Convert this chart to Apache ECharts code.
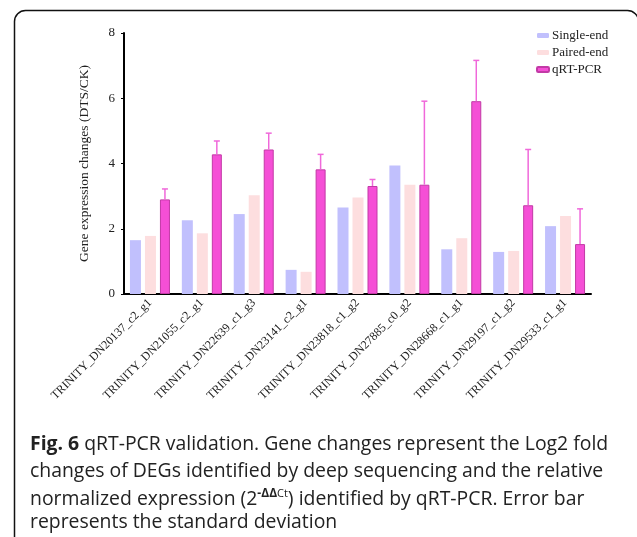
<!DOCTYPE html>
<html>
<head>
<meta charset="utf-8">
<script src="https://cdn.jsdelivr.net/npm/echarts@6/dist/echarts.min.js"></script>
<style>
    html, body { margin: 0; padding: 0; background: #fff; }
    #chart_content { width: 637px; height: 537px; }
</style>
</head>
<body>
<div id="chart_content"></div>
<script>
// genes on the x axis
var categories = [
    "TRINITY_DN20137_c2_g1", "TRINITY_DN21055_c2_g1", "TRINITY_DN22639_c1_g3",
    "TRINITY_DN23141_c2_g1", "TRINITY_DN23818_c1_g2", "TRINITY_DN27885_c0_g2",
    "TRINITY_DN28668_c1_g1", "TRINITY_DN29197_c1_g2", "TRINITY_DN29533_c1_g1"
];
var single_end = [1.65, 2.26, 2.45, 0.74, 2.65, 3.94, 1.37, 1.29, 2.08];
var paired_end = [1.78, 1.86, 3.03, 0.68, 2.96, 3.35, 1.71, 1.32, 2.39];
var qrt_pcr    = [2.90, 4.28, 4.43, 3.82, 3.31, 3.35, 5.91, 2.72, 1.53];
// top of the error bar (mean + sd)
var qrt_err_top = [3.22, 4.69, 4.93, 4.28, 3.51, 5.91, 7.16, 4.43, 2.61];
var y_ticks = [0, 2, 4, 6, 8];

var serif = "Liberation Serif";
var bar_w = 11, bar_gap = 4;

var chart = echarts.init(document.getElementById("chart_content"));

var option = {
    animation: false,
    grid: { left: 124, right: 46, top: 33, bottom: 243, containLabel: false },
    legend: {
        orient: 'vertical',
        left: 536,
        top: 29,
        padding: 0,
        itemWidth: 12,
        itemHeight: 5,
        itemGap: 4,
        textStyle: { fontFamily: serif, fontSize: 13, color: '#222', padding: [0, 0, 0, -2] },
        data: ['Single-end', 'Paired-end', 'qRT-PCR']
    },
    xAxis: {
        type: 'category',
        data: categories,
        axisLine: { lineStyle: { color: '#000', width: 2 } },
        axisTick: { alignWithLabel: true, length: 3, lineStyle: { color: '#000' } },
        axisLabel: { rotate: 45, fontFamily: serif, fontSize: 12, color: '#222', margin: 7, interval: 0 }
    },
    yAxis: {
        type: 'value',
        min: 0, max: 8, interval: 2,
        name: 'Gene expression changes (DTS/CK)',
        nameLocation: 'middle',
        nameGap: 33,
        nameTextStyle: { fontFamily: serif, fontSize: 13.5, color: '#222' },
        axisLine: { show: true, lineStyle: { color: '#000', width: 2 } },
        axisTick: { show: true, length: 3, lineStyle: { color: '#000' } },
        splitLine: { show: false },
        axisLabel: {
            fontFamily: serif, fontSize: 13, color: '#222', margin: 9,
            formatter: function (v) { return y_ticks.indexOf(v) >= 0 ? String(v) : ''; }
        }
    },
    series: [
        {
            name: 'Single-end', type: 'bar', data: single_end,
            barWidth: bar_w, barGap: (bar_gap / bar_w * 100) + '%',
            itemStyle: { color: '#c1c0fd' }
        },
        {
            name: 'Paired-end', type: 'bar', data: paired_end,
            barWidth: bar_w,
            itemStyle: { color: '#fddedf' }
        },
        {
            name: 'qRT-PCR', type: 'bar', data: qrt_pcr,
            barWidth: bar_w - 1,
            itemStyle: { color: '#f54fd6', borderColor: '#c23aa6', borderWidth: 1 }
        },
        {
            name: 'err', type: 'custom', z: 5,
            data: qrt_err_top.map(function (v, i) { return [i, qrt_pcr[i], v]; }),
            renderItem: function (params, api) {
                var base = api.coord([api.value(0), api.value(1)]);
                var top = api.coord([api.value(0), api.value(2)]);
                var x = base[0] + bar_w + bar_gap;
                var cap = 3;
                var style = { stroke: '#f068da', lineWidth: 1.5 };
                return {
                    type: 'group',
                    children: [
                        { type: 'line', shape: { x1: x, y1: base[1], x2: x, y2: top[1] }, style: style },
                        { type: 'line', shape: { x1: x - cap, y1: top[1], x2: x + cap, y2: top[1] }, style: style }
                    ]
                };
            }
        }
    ],
    graphic: [
        {
            type: 'rect', left: 12, top: 8, z: -1,
            shape: { width: 624, height: 540, r: 11 },
            style: { fill: 'none', stroke: '#111', lineWidth: 1.5 }
        },
        {
            type: 'text', left: 30, top: 435,
            style: {
                text: '{b|Fig. 6} qRT-PCR validation. Gene changes represent the Log2 fold',
                font: '19.4px "Open Sans"', fill: '#222',
                rich: { b: { fontWeight: 'bold', fontSize: 19.4, fontFamily: 'Open Sans', fill: '#222' } }
            }
        },
        {
            type: 'text', left: 30, top: 462,
            style: { text: 'changes of DEGs identified by deep sequencing and the relative', font: '19.4px "Open Sans"', fill: '#222' }
        },
        {
            type: 'text', left: 30, top: 488,
            style: {
                text: 'normalized expression (2{s|-ΔΔ}{c|Ct}) identified by qRT-PCR. Error bar',
                font: '19.4px "Open Sans"', fill: '#222',
                rich: {
                    s: { fontSize: 12, fontWeight: 'bold', fontFamily: 'Open Sans', verticalAlign: 'top', padding: [0, 0, 11, 0], fill: '#222' },
                    c: { fontSize: 11, fontFamily: 'Open Sans', verticalAlign: 'top', padding: [0, 0, 11, 0], fill: '#222' }
                }
            }
        },
        {
            type: 'text', left: 30, top: 513,
            style: { text: 'represents the standard deviation', font: '19.4px "Open Sans"', fill: '#222' }
        }
    ]
};

chart.setOption(option, true);
</script>
</body>
</html>
